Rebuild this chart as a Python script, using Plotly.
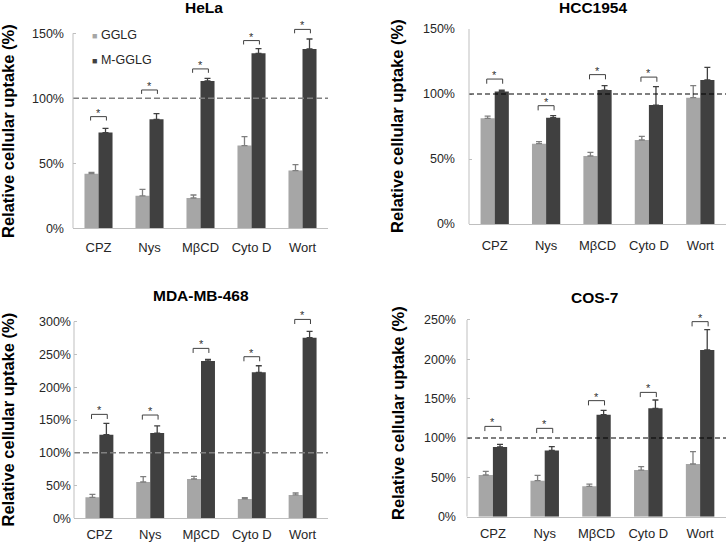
import plotly.graph_objects as go

W, H = 726, 543

# ---------------- data ----------------
categories = ["CPZ", "Nys", "MβCD", "Cyto D", "Wort"]
series_names = ["GGLG", "M-GGLG"]
panel_titles = ["HeLa", "HCC1954", "MDA-MB-468", "COS-7"]

hela_gglg = [42, 25, 23.3, 63.6, 44.4]
hela_gglg_err = [1, 5, 2.3, 6.9, 4.6]
hela_mgglg = [73.6, 83.8, 113.3, 134.6, 138]
hela_mgglg_err = [3.3, 4.4, 2.1, 3.6, 7.6]
hela_sig = [85.9, 106.4, 122.6, 144.4, 153]

hcc_gglg = [81.3, 61.8, 52.3, 64.6, 97.2]
hcc_gglg_err = [1.7, 1.5, 2.8, 2.8, 9.2]
hcc_mgglg = [102, 81.8, 103, 91.5, 110.8]
hcc_mgglg_err = [1, 1.5, 3.4, 14.1, 9.7]
hcc_sig = [111.5, 91, 114.9, 113, None]

mda_gglg = [32, 55.4, 60, 29.5, 35.6]
mda_gglg_err = [4.6, 8.1, 4, 2, 3]
mda_mgglg = [127.6, 130, 240, 222.7, 275.5]
mda_mgglg_err = [17.4, 11, 2.5, 10.1, 9.7]
mda_sig = [158.6, 157.6, 259.3, 246.6, 303.5]

cos_gglg = [53, 45.8, 38.6, 59.3, 67]
cos_gglg_err = [4.6, 6.7, 2.9, 4.3, 15.6]
cos_mgglg = [88.6, 84.3, 129.7, 137.7, 211.9]
cos_mgglg_err = [3.4, 4.7, 5.5, 10.6, 25.8]
cos_sig = [114.8, 112.3, 147.5, 158, 247.9]

ticks_150 = [0, 50, 100, 150]
ticks_300 = [0, 50, 100, 150, 200, 250, 300]
ticks_250 = [0, 50, 100, 150, 200, 250]
reference_level = 100
y_title = "Relative cellular uptake (%)"

# ---------------- styles / layout ----------------
FONT = "Liberation Sans, Arial, sans-serif"
C_LIGHT = "#a6a6a6"
C_DARK = "#404040"
C_AXIS = "#bfbfbf"
C_TEXT = "#262626"


def px_x(v):
    return v / W


def px_y(v):
    return 1 - v / H


panels = [
    dict(title=panel_titles[0], g=hela_gglg, ge=hela_gglg_err, m=hela_mgglg, me=hela_mgglg_err,
         sig=hela_sig, ticks=ticks_150, ytop=165, px_x=(73, 328), px_y0=228.3, ppu=1.3,
         drop=3.0, standoff=8, xstandoff=7, dash=dict(color="#808080", width=1.6, dash="6px,3px"),
         tpos=(204, 8), ytpos=(7.5, 131.5)),
    dict(title=panel_titles[1], g=hcc_gglg, ge=hcc_gglg_err, m=hcc_mgglg, me=hcc_mgglg_err,
         sig=hcc_sig, ticks=ticks_150, ytop=150, px_x=(469, 726), px_y0=224, ppu=1.3,
         drop=3.6, standoff=13, xstandoff=9, dash=dict(color="#000000", width=1.1, dash="5px,3px"),
         tpos=(593, 8), ytpos=(397, 126)),
    dict(title=panel_titles[2], g=mda_gglg, ge=mda_gglg_err, m=mda_mgglg, me=mda_mgglg_err,
         sig=mda_sig, ticks=ticks_300, ytop=318, px_x=(74, 328), px_y0=518.3, ppu=0.6553,
         drop=7.0, standoff=2, xstandoff=4, dash=dict(color="#808080", width=1.6, dash="6px,3px"),
         tpos=(201, 295.3), ytpos=(7.5, 420)),
    dict(title=panel_titles[3], g=cos_gglg, ge=cos_gglg_err, m=cos_mgglg, me=cos_mgglg_err,
         sig=cos_sig, ticks=ticks_250, ytop=255, px_x=(467, 726), px_y0=516.7, ppu=0.7868,
         drop=6.0, standoff=10, xstandoff=5, dash=dict(color="#000000", width=1.1, dash="5px,3px"),
         tpos=(594, 297), ytpos=(398, 413)),
]

fig = go.Figure()
xs = list(range(len(categories)))
half = 0.155
annotations = []
shapes = []

for k, p in enumerate(panels):
    sfx = "" if k == 0 else str(k + 1)
    xa, ya = "x" + sfx, "y" + sfx

    for s, (vals, errs, col, ecol) in enumerate([(p["g"], p["ge"], C_LIGHT, "#7f7f7f"),
                                                  (p["m"], p["me"], C_DARK, C_DARK)]):
        fig.add_trace(go.Bar(
            x=xs, y=vals, name=series_names[s], marker=dict(color=col, line=dict(width=0)),
            error_y=dict(type="data", array=errs, arrayminus=[0] * len(errs), symmetric=False,
                         color=ecol, thickness=1.3, width=3),
            xaxis=xa, yaxis=ya, showlegend=False, offsetgroup=str(s), hoverinfo="skip"))

    # significance brackets
    bx, by = [], []
    for i, b in enumerate(p["sig"]):
        if b is None:
            continue
        bx += [i - half, i - half, i + half, i + half, None]
        by += [b - p["drop"], b, b, b - p["drop"], None]
        annotations.append(dict(xref=xa, yref=ya, x=i, y=b, text="*", showarrow=False,
                                yanchor="middle", yshift=4,
                                font=dict(family=FONT, size=11, color="#333333")))
    fig.add_trace(go.Scatter(x=bx, y=by, mode="lines", line=dict(color=C_DARK, width=1),
                             xaxis=xa, yaxis=ya, showlegend=False, hoverinfo="skip"))

    # reference dashed line and y-axis line
    shapes.append(dict(type="line", xref=xa + " domain", x0=0, x1=1, yref=ya,
                       y0=reference_level, y1=reference_level, line=p["dash"], layer="above"))
    shapes.append(dict(type="line", xref=xa + " domain", x0=0, x1=0, yref=ya,
                       y0=0, y1=p["ticks"][-1], line=dict(color=C_AXIS, width=1), layer="above"))

    x0p, x1p = p["px_x"]
    ytop_px = p["px_y0"] - p["ytop"] * p["ppu"]
    fig.layout["xaxis" + sfx] = dict(
        domain=[px_x(x0p), min(px_x(x1p), 1)], anchor=ya, range=[-0.5, len(categories) - 0.5],
        tickvals=xs, ticktext=categories, ticks="", showline=True, linecolor=C_AXIS,
        linewidth=1, showgrid=False, zeroline=False, ticklabelstandoff=p["xstandoff"],
        automargin=False, tickfont=dict(family=FONT, size=13, color=C_TEXT), fixedrange=True)
    fig.layout["yaxis" + sfx] = dict(
        domain=[px_y(p["px_y0"]), px_y(ytop_px)], anchor=xa, range=[0, p["ytop"]],
        tickvals=p["ticks"], ticktext=[f"{v}%" for v in p["ticks"]], ticks="inside",
        ticklen=3, tickcolor=C_AXIS, showline=False, showgrid=False, zeroline=False,
        automargin=False,
        ticklabelstandoff=p["standoff"], tickfont=dict(family=FONT, size=12.5, color=C_TEXT),
        fixedrange=True)

    # panel title and y-axis title
    annotations.append(dict(xref="paper", yref="paper", x=px_x(p["tpos"][0]), y=px_y(p["tpos"][1]),
                            text=p["title"], showarrow=False, xanchor="center", yanchor="middle",
                            font=dict(family=FONT, size=15.5, color="#000000", weight="bold")))
    annotations.append(dict(xref="paper", yref="paper", x=px_x(p["ytpos"][0]), y=px_y(p["ytpos"][1]),
                            text=y_title, textangle=-90, showarrow=False, xanchor="center",
                            yanchor="middle",
                            font=dict(family=FONT, size=16.5, color="#000000", weight="bold")))

# legend (inside HeLa panel)
for s, (col, ypx) in enumerate([(C_LIGHT, 35), (C_DARK, 60)]):
    annotations.append(dict(
        xref="paper", yref="paper", x=px_x(90), y=px_y(ypx), xanchor="left", yanchor="middle",
        text=f'<span style="color:{col};font-size:9px">■</span> {series_names[s]}',
        showarrow=False, font=dict(family=FONT, size=12.5, color=C_TEXT)))

fig.update_layout(
    width=W, height=H, margin=dict(l=0, r=0, t=0, b=0, autoexpand=False),
    paper_bgcolor="white", plot_bgcolor="white",
    barmode="group", bargap=0.45, bargroupgap=0,
    showlegend=False, annotations=annotations, shapes=shapes,
    font=dict(family=FONT, color=C_TEXT),
)

# remove the browser's default 8px page margin so the figure fills the window exactly
fig.write_html("out.html", config={"displayModeBar": False, "staticPlot": True},
               post_script="document.body.style.margin='0';")
